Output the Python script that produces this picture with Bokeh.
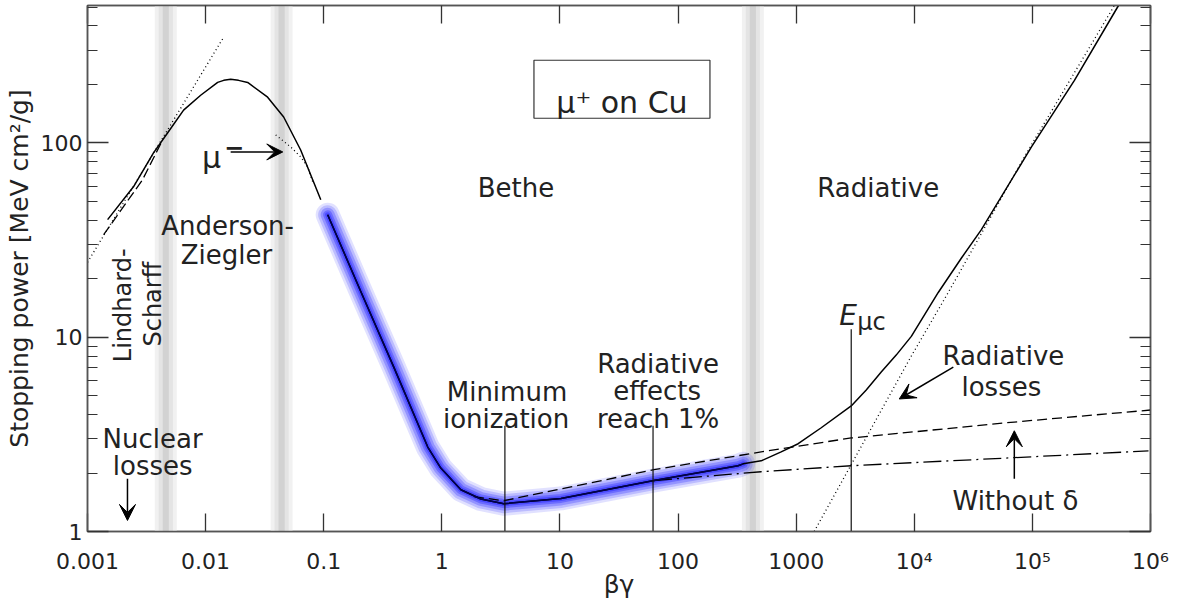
from bokeh.plotting import figure
from bokeh.models import Range1d, FixedTicker, LogAxis, Label, Arrow, VeeHead, BoxAnnotation
from bokeh.embed import file_html
from bokeh.resources import INLINE

# ---------------- data ----------------
# Anderson-Ziegler region (low energy), solid
az_x = [0.00148, 0.00245, 0.00362, 0.00476, 0.00651, 0.00908, 0.01265, 0.01423, 0.0163, 0.019, 0.0227, 0.0335, 0.0458, 0.0638, 0.0944]
az_y = [40.3, 59.5, 88.9, 112.5, 147.6, 176, 205, 210, 213, 210, 205, 172, 136, 92, 51]

# Bethe + radiative total (solid)
tot_x = [0.108, 0.206, 0.392, 0.76, 0.98, 1.45, 2.14, 3.35, 10.2, 62.6, 322, 356,
         505, 746, 1040, 1630, 2925, 3920, 5250, 7030, 9440, 15960, 25000, 37000, 98200, 227000, 536000]
tot_y = [42.7, 17.2, 7.02, 2.72, 2.12, 1.64, 1.47, 1.39, 1.48, 1.83, 2.18, 2.23,
         2.31, 2.57, 2.83, 3.42, 4.43, 5.35, 6.62, 8.09, 10.1, 17.0, 25.5, 35.8, 95.4, 210, 510]
bethe_glow_end = 356  # blue highlight of the Bethe region ends here

# Lindhard-Scharff (dotted)
lind_x = [0.001, 0.0142]
lind_y = [24.3, 350]

# low-energy long-dashed
ls_x = [0.00137, 0.00292, 0.0042]
ls_y = [33.7, 64.6, 100]

# mu- (dotted)
mum_x = [0.0392, 0.0525, 0.0638, 0.0731, 0.0807]
mum_y = [110, 95.4, 84.8, 75.3, 63.1]

# dashed (without delta)
dash_x = [1.87, 3.35, 62.6, 505, 2925, 70300, 1e6]
dash_y = [1.51, 1.44, 2.08, 2.57, 3.03, 3.66, 4.22]

# dash-dot (ionization)
dd_x = [62.6, 505, 2925, 70300, 962000]
dd_y = [1.83, 2.03, 2.18, 2.40, 2.60]

# radiative losses (dotted)
rad_x = [1422, 9440, 19400, 92500, 495000]
rad_y = [1.0, 8.0, 17, 92, 510]

# marker lines: minimum ionization, radiative 1%, E_muc
vline_x = [3.42, 61.4, 2925]
vline_top = [3.5, 3.5, 11.0]

# shaded transition bands (centers)
band_centers = [0.0046, 0.044, 430]

xticks = [1e-3, 1e-2, 1e-1, 1.0, 10.0, 100.0, 1000.0, 1e4, 1e5, 1e6]
xlabels = ["0.001", "0.01", "0.1", "1", "10", "100", "1000", "10⁴", "10⁵", "10⁶"]
yticks = [1.0, 10.0, 100.0]
ylabels = ["1", "10", "100"]
yminor = [2, 3, 4, 5, 6, 7, 8, 9, 20, 30, 40, 50, 60, 70, 80, 90, 200, 300, 400, 500]

Y_BOTTOM = 1.0
Y_TOP = 510
FONT = "DejaVu Sans"
TXT = "#222222"
AX = "#555555"

p = figure(width=1170, height=601, x_axis_type="log", y_axis_type="log",
           x_range=Range1d(1e-3, 1e6), y_range=Range1d(Y_BOTTOM, Y_TOP),
           output_backend="svg", toolbar_location=None,
           min_border_left=87, min_border_right=20, min_border_top=5, min_border_bottom=68)
p.grid.visible = False
p.outline_line_color = AX
p.outline_line_width = 1.5
p.background_fill_color = "white"

# bands
for c in band_centers:
    for hw, col in [(0.093, "#f1f1f1"), (0.06, "#e4e4e4"), (0.026, "#d2d2d2")]:
        p.add_layout(BoxAnnotation(left=c * 10 ** -hw, right=c * 10 ** hw, fill_color=col,
                                   fill_alpha=1, line_color=None, level="underlay"))

# curves
p.line(lind_x, lind_y, line_color="black", line_width=1.3, line_dash="1 3")
p.line(ls_x, ls_y, line_color="black", line_width=1.3, line_dash="10 4")
p.line(az_x, az_y, line_color="black", line_width=1.5, line_join="round")
p.line(mum_x, mum_y, line_color="black", line_width=1.3, line_dash="1 3")

gx = [x for x in tot_x if x <= bethe_glow_end]
gy = tot_y[:len(gx)]
for w, a in [(24, 0.14), (19, 0.2), (14, 0.28), (9, 0.38), (5, 0.5)]:
    p.line(gx, gy, line_color="#2a2aff", line_width=w, line_alpha=a, line_cap="round", line_join="round")

p.line(dash_x, dash_y, line_color="black", line_width=1.3, line_dash="10 5")
p.line(dd_x, dd_y, line_color="black", line_width=1.3, line_dash="18 5 2 5")
p.line(rad_x, rad_y, line_color="black", line_width=1.3, line_dash="1 3")
p.line(tot_x, tot_y, line_color="black", line_width=1.5, line_join="round")
p.line(gx, gy, line_color="#000050", line_width=1.5, line_join="round")

p.segment(x0=vline_x, y0=[Y_BOTTOM] * len(vline_x), x1=vline_x, y1=vline_top,
          line_color="#111111", line_width=1.2)

# box for the title
p.rect(x=[33.5], y=[189], width=176, height=58, width_units="screen", height_units="screen",
       fill_color="white", line_color="#333333", line_width=1.2)

def lab(x, y, t, size=26, align="center", angle=0, style="normal"):
    p.add_layout(Label(x=x, y=y, text=t, text_font=FONT, text_font_size=f"{size}px",
                       text_color=TXT, text_align=align, text_baseline="alphabetic",
                       angle=angle, text_font_style=style))

lab(33.5, 162, "μ⁺ on Cu", size=30)
lab(4.24, 58.8, "Bethe")
lab(4955, 58.8, "Radiative")
lab(0.01535, 37.5, "Anderson-")
lab(0.0150, 26.6, "Ziegler")
lab(0.00198, 14.6, "Lindhard-", size=24, angle=1.5708)
lab(0.00356, 14.8, "Scharff", size=24, angle=1.5708)
lab(0.00356, 3.0, "Nuclear")
lab(0.00356, 2.18, "losses")
lab(3.56, 5.22, "Minimum")
lab(3.50, 3.80, "ionization")
lab(67.8, 7.27, "Radiative")
lab(66.5, 5.29, "effects")
lab(67.8, 3.80, "reach 1%")
lab(56800, 8.0, "Radiative")
lab(54600, 5.54, "losses")
lab(71800, 1.44, "Without δ")
lab(0.01125, 83.8, "μ", size=30)
lab(0.01745, 95.4, "−", size=24, style="bold")
lab(2312, 12.97, "E", size=28, align="left", style="italic")
lab(3289, 11.94, "μc", size=24, align="left")

# arrows
for xs, ys, xe, ye in [(0.00218, 1.87, 0.00218, 1.14),
                       (0.0163, 89.9, 0.045, 89.9),
                       (21400, 7.02, 7460, 4.81),
                       (70300, 1.87, 70300, 3.30)]:
    p.add_layout(Arrow(end=VeeHead(size=16, fill_color="black", line_color="black", line_width=1),
                       x_start=xs, y_start=ys, x_end=xe, y_end=ye,
                       line_color="black", line_width=1.5))

# axes
def style_axis(ax, tick_in, minor_in):
    ax.axis_line_color = AX
    ax.axis_line_width = 1.5
    ax.major_tick_line_color = "#333333"
    ax.major_tick_line_width = 1.3
    ax.major_tick_in = tick_in
    ax.major_tick_out = 0
    ax.minor_tick_line_color = "#333333" if minor_in else None
    ax.minor_tick_line_width = 1.2
    ax.minor_tick_in = minor_in
    ax.minor_tick_out = 0
    ax.major_label_text_font = FONT
    ax.major_label_text_font_size = "22px"
    ax.major_label_text_color = TXT

xa = p.xaxis[0]
xa.ticker = FixedTicker(ticks=xticks, minor_ticks=[])
xa.major_label_overrides = dict(zip(xticks, xlabels))
style_axis(xa, 18, 0)
xa.major_label_standoff = 17
xa.axis_label = "βγ"
xa.axis_label_text_font = FONT
xa.axis_label_text_font_size = "25px"
xa.axis_label_text_font_style = "normal"
xa.axis_label_text_color = TXT
xa.axis_label_standoff = -7

ya = p.yaxis[0]
ya.ticker = FixedTicker(ticks=yticks, minor_ticks=yminor)
ya.major_label_overrides = dict(zip(yticks, ylabels))
style_axis(ya, 21, 10)
ya.major_label_standoff = 5
ya.axis_label = "Stopping power [MeV cm²/g]"
ya.axis_label_text_font = FONT
ya.axis_label_text_font_size = "25px"
ya.axis_label_text_font_style = "normal"
ya.axis_label_text_color = TXT
ya.axis_label_standoff = 4

top = LogAxis(ticker=FixedTicker(ticks=xticks, minor_ticks=[]))
style_axis(top, 18, 0)
top.major_label_overrides = {t: "" for t in xticks}
top.major_label_text_font_size = "0px"
top.major_label_standoff = 0
p.add_layout(top, "above")

right = LogAxis(ticker=FixedTicker(ticks=yticks, minor_ticks=yminor))
style_axis(right, 21, 10)
right.major_label_overrides = {t: "" for t in yticks}
right.major_label_text_font_size = "0px"
right.major_label_standoff = 0
p.add_layout(right, "right")

open("out.html", "w").write(file_html(p, INLINE))
